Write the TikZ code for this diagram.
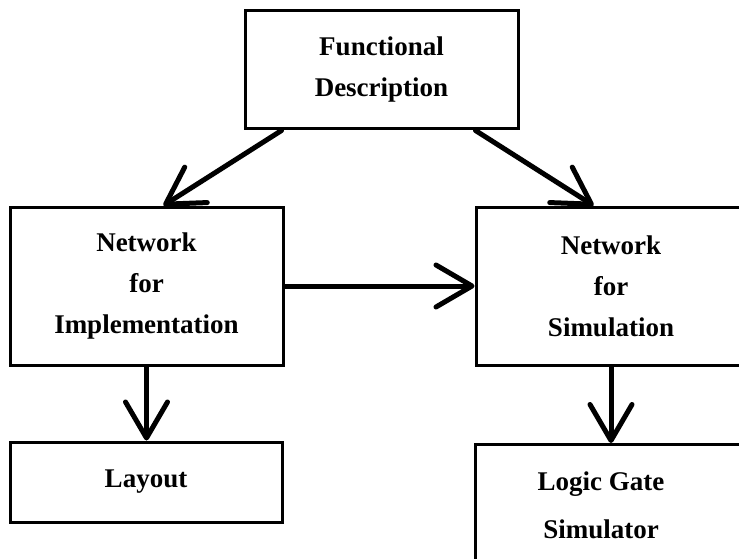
\documentclass[tikz,border=0pt]{standalone}
\usepackage{fontspec}
\setmainfont{Liberation Serif}
\usetikzlibrary{arrows.meta,calc}
\begin{document}
\begin{tikzpicture}[x=1pt,y=-1pt,
  box/.style={draw=black,line width=3pt,rectangle,inner sep=0pt,
    font=\bfseries\fontsize{27}{41}\selectfont,align=center},
  txt/.style={inner sep=0pt,font=\bfseries\fontsize{27}{48}\selectfont,align=center},
  conn/.style={line width=5pt,line cap=round,line join=round,
    -{Straight Barb[length=36pt,width=42pt,line width=5pt,round]}}]
\fill[white] (0,0) rectangle (739,559);
\useasboundingbox (0,0) rectangle (739,559);
\clip (0,0) rectangle (739,559);
\node[box,minimum width=273pt,minimum height=118pt] (func) at (381.5,70) {Functional\\Description};
\node[box,minimum width=273pt,minimum height=158pt] (impl) at (146.5,286) {Network\\for\\Implementation};
\node[box,minimum width=270pt,minimum height=158pt] (sim) at (611,286) {Network\\for\\Simulation};
\node[box,minimum width=272pt,minimum height=80pt] (layout) at (146,482) {Layout};
\node[box,minimum width=272pt,minimum height=160pt,anchor=north west] (logic) at (474,443) {};
\node[txt] (logict) at (601,505) {Logic Gate\\Simulator};
\draw[conn] ([xshift=38pt]func.south west) -- ([xshift=155pt]impl.north west);
\draw[conn] ([xshift=232pt]func.south west) -- ([xshift=119pt]sim.north west);
\draw[conn] (impl.east) -- (sim.west);
\draw[conn] (impl.south) -- (impl.south |- layout.north);
\draw[conn] (sim.south) -- (sim.south |- logic.north);
\end{tikzpicture}
\end{document}
